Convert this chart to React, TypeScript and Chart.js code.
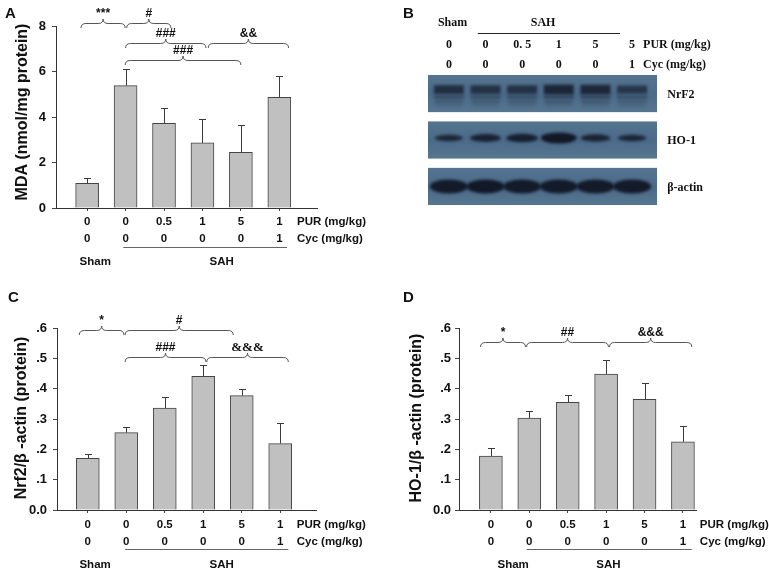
import { useEffect, useRef } from 'react';
import { Chart, registerables } from 'chart.js';

Chart.register(...registerables);

const SANS = '"Liberation Sans", Arial, Helvetica, sans-serif';
const SERIF = '"Liberation Serif", "Times New Roman", Times, serif';

// ---------- shared categories ----------
const lanes = [0, 1, 2, 3, 4, 5];
const purDose = ['0', '0', '0.5', '1', '5', '1'];
const cycDose = ['0', '0', '0', '0', '0', '1'];
const groupLabels = ['Sham', 'SAH'];

// ---------- panel A: MDA ----------
const mdaMean = [1.08, 5.38, 3.72, 2.86, 2.45, 4.86];
const mdaErr = [0.24, 0.74, 0.66, 1.07, 1.22, 0.96];
const mdaTicks = [0, 2, 4, 6, 8];
const mdaTickLabels = ['0', '2', '4', '6', '8'];

// ---------- panel C: Nrf2 / beta-actin ----------
const nrf2Mean = [0.17, 0.255, 0.336, 0.441, 0.377, 0.219];
const nrf2Err = [0.016, 0.018, 0.038, 0.038, 0.023, 0.069];

// ---------- panel D: HO-1 / beta-actin ----------
const ho1Mean = [0.178, 0.303, 0.355, 0.448, 0.365, 0.225];
const ho1Err = [0.025, 0.025, 0.025, 0.048, 0.055, 0.051];

const ratioTicks = [0, 0.1, 0.2, 0.3, 0.4, 0.5, 0.6];
const ratioTickLabels = ['0.0', '.1', '.2', '.3', '.4', '.5', '.6'];

// ---------- significance braces (x in lane units, level in y units) ----------
const mdaBraces = [
  { from: -0.16, to: 0.99, level: 8.13, label: '***' },
  { from: 1.03, to: 2.18, level: 8.13, label: '#' },
  { from: 1.0, to: 3.09, level: 7.25, label: '###' },
  { from: 3.15, to: 5.24, level: 7.25, label: '&&' },
  { from: 0.99, to: 4.0, level: 6.5, label: '###' },
];
const nrf2Braces = [
  { from: -0.22, to: 0.94, level: 0.592, label: '*' },
  { from: 0.97, to: 3.78, level: 0.592, label: '#' },
  { from: 0.97, to: 3.07, level: 0.504, label: '###' },
  { from: 3.09, to: 5.21, level: 0.504, label: '&&&', serif: true },
];
const ho1Braces = [
  { from: -0.27, to: 0.9, level: 0.554, label: '*' },
  { from: 0.93, to: 3.06, level: 0.554, label: '##' },
  { from: 3.09, to: 5.23, level: 0.554, label: '&&&' },
];

// ---------- panel B: western blot ----------
const blotPur = ['0', '0', '0. 5', '1', '5', '5'];
const blotCyc = ['0', '0', '0', '0', '0', '1'];
const blotRows = ['NrF2', 'HO-1', 'β-actin'];
const nrf2Band = [0.7, 0.62, 0.62, 0.95, 0.9, 0.5];
const ho1Band = [0.42, 0.62, 0.7, 1.0, 0.55, 0.45];
const actinBand = [0.95, 0.97, 0.95, 0.95, 0.95, 0.95];
const blotBands = [nrf2Band, ho1Band, actinBand];

type Brace = { from: number; to: number; level: number; label: string; serif?: boolean };

interface BarCfg {
  letter: string; letterX: number; letterY: number;
  left: number; top: number; w: number; h: number;
  axisWidth: number; padTop: number; padRight: number; padBottom: number;
  xMin: number; xMax: number; yMax: number;
  yTicks: number[]; yTickLabels: string[]; tickPad: number;
  means: number[]; errs: number[]; braces: Brace[];
  title: string; titleX: number; titleY: number;
  rows: number[]; shamX: number; sahX: number; lineFrom: number; lineTo: number; unitX: number;
}

const panels: BarCfg[] = [
  {
    letter: 'A', letterX: 5, letterY: 18, left: 0, top: 0, w: 390, h: 285,
    axisWidth: 56, padTop: 26, padRight: 73, padBottom: 77,
    xMin: -0.81, xMax: 5.98, yMax: 8, yTicks: mdaTicks, yTickLabels: mdaTickLabels, tickPad: 6,
    means: mdaMean, errs: mdaErr, braces: mdaBraces,
    title: 'MDA (nmol/mg protein)', titleX: 23, titleY: 112,
    rows: [14, 31, 39, 54], shamX: 0.21, sahX: 3.5, lineFrom: 0.94, lineTo: 5.2, unitX: 5.46,
  },
  {
    letter: 'C', letterX: 8, letterY: 17, left: 0, top: 285, w: 390, h: 287,
    axisWidth: 57, padTop: 43, padRight: 74, padBottom: 62,
    xMin: -0.8, xMax: 5.93, yMax: 0.6, yTicks: ratioTicks, yTickLabels: ratioTickLabels, tickPad: 6,
    means: nrf2Mean, errs: nrf2Err, braces: nrf2Braces,
    title: 'Nrf2/β -actin (protein)', titleX: 22, titleY: 133,
    rows: [15, 31.7, 39.3, 55], shamX: 0.19, sahX: 3.48, lineFrom: 0.97, lineTo: 5.21, unitX: 5.43,
  },
  {
    letter: 'D', letterX: 13, letterY: 17, left: 390, top: 285, w: 379, h: 287,
    axisWidth: 69, padTop: 43, padRight: 73, padBottom: 62,
    xMin: -0.83, xMax: 5.34, yMax: 0.6, yTicks: ratioTicks, yTickLabels: ratioTickLabels, tickPad: 4,
    means: ho1Mean, errs: ho1Err, braces: ho1Braces,
    title: 'HO-1/β -actin (protein)', titleX: 27, titleY: 133,
    rows: [15, 31.7, 39.3, 55], shamX: 0.58, sahX: 3.06, lineFrom: 0.93, lineTo: 5.23, unitX: 5.44,
  },
];

function drawBrace(ctx: CanvasRenderingContext2D, x1: number, x2: number, y: number) {
  const xm = (x1 + x2) / 2;
  const r = 5;
  const h = 4.5;
  ctx.beginPath();
  ctx.moveTo(x1, y + h);
  ctx.quadraticCurveTo(x1, y, x1 + r, y);
  ctx.lineTo(xm - r, y);
  ctx.quadraticCurveTo(xm, y, xm, y - h);
  ctx.quadraticCurveTo(xm, y, xm + r, y);
  ctx.lineTo(x2 - r, y);
  ctx.quadraticCurveTo(x2, y, x2, y + h);
  ctx.stroke();
}

function BarPanel({ cfg }: { cfg: BarCfg }) {
  const ref = useRef<HTMLCanvasElement>(null);
  useEffect(() => {
    const canvas = ref.current as HTMLCanvasElement;
    const decor = {
      id: 'decor' + cfg.letter,
      afterDatasetsDraw(chart: any) {
        const ctx = chart.ctx as CanvasRenderingContext2D;
        const ys = chart.scales.y;
        const meta = chart.getDatasetMeta(0);
        ctx.save();
        ctx.strokeStyle = '#3a3a3a';
        ctx.lineWidth = 1;
        meta.data.forEach((el: any, i: number) => {
          const x = Math.round(el.x) + 0.5;
          const yTop = Math.round(ys.getPixelForValue(cfg.means[i] + cfg.errs[i])) + 0.5;
          ctx.beginPath();
          ctx.moveTo(x, el.y);
          ctx.lineTo(x, yTop);
          ctx.moveTo(x - 3.5, yTop);
          ctx.lineTo(x + 3.5, yTop);
          ctx.stroke();
        });
        ctx.restore();
      },
      afterDraw(chart: any) {
        const ctx = chart.ctx as CanvasRenderingContext2D;
        const xs = chart.scales.x;
        const ys = chart.scales.y;
        const bottom = chart.chartArea.bottom;
        ctx.save();
        // braces
        ctx.strokeStyle = '#555';
        ctx.lineWidth = 1;
        ctx.fillStyle = '#111';
        ctx.textAlign = 'center';
        ctx.textBaseline = 'middle';
        cfg.braces.forEach((b) => {
          const x1 = xs.getPixelForValue(b.from);
          const x2 = xs.getPixelForValue(b.to);
          const y = Math.round(ys.getPixelForValue(b.level)) + 0.5;
          drawBrace(ctx, x1, x2, y);
          ctx.font = b.serif ? `bold 13px ${SERIF}` : `bold 12px ${SANS}`;
          ctx.fillText(b.label, (x1 + x2) / 2, y - 10);
        });
        // dose rows
        ctx.font = `bold 11.5px ${SANS}`;
        ctx.textAlign = 'center';
        lanes.forEach((l, i) => {
          const x = xs.getPixelForValue(l);
          ctx.fillText(purDose[i], x, bottom + cfg.rows[0]);
          ctx.fillText(cycDose[i], x, bottom + cfg.rows[1]);
        });
        ctx.textAlign = 'left';
        const ux = xs.getPixelForValue(cfg.unitX);
        ctx.fillText('PUR (mg/kg)', ux, bottom + cfg.rows[0]);
        ctx.fillText('Cyc (mg/kg)', ux, bottom + cfg.rows[1]);
        // group line
        ctx.strokeStyle = '#666';
        ctx.beginPath();
        const ly = Math.round(bottom + cfg.rows[2]) + 0.5;
        ctx.moveTo(xs.getPixelForValue(cfg.lineFrom), ly);
        ctx.lineTo(xs.getPixelForValue(cfg.lineTo), ly);
        ctx.stroke();
        ctx.textAlign = 'center';
        ctx.fillText(groupLabels[0], xs.getPixelForValue(cfg.shamX), bottom + cfg.rows[3]);
        ctx.fillText(groupLabels[1], xs.getPixelForValue(cfg.sahX), bottom + cfg.rows[3]);
        // y title
        ctx.save();
        ctx.translate(cfg.titleX, cfg.titleY);
        ctx.rotate(-Math.PI / 2);
        ctx.font = `bold 16px ${SANS}`;
        ctx.fillText(cfg.title, 0, 0);
        ctx.restore();
        // panel letter
        ctx.textAlign = 'left';
        ctx.textBaseline = 'alphabetic';
        ctx.font = `bold 15px ${SANS}`;
        ctx.fillText(cfg.letter, cfg.letterX, cfg.letterY);
        ctx.restore();
      },
    };
    const chart = new Chart(canvas, {
      type: 'bar',
      data: {
        datasets: [
          {
            data: cfg.means.map((v, i) => ({ x: lanes[i], y: v })),
            backgroundColor: '#c0c0c0',
            borderColor: '#444',
            borderWidth: 1,
            barThickness: 23,
          },
        ],
      },
      options: {
        animation: false,
        responsive: false,
        events: [],
        layout: { padding: { left: 0, top: cfg.padTop, right: cfg.padRight, bottom: cfg.padBottom } },
        plugins: { legend: { display: false }, tooltip: { enabled: false }, title: { display: false } },
        scales: {
          x: {
            type: 'linear',
            offset: false,
            min: cfg.xMin,
            max: cfg.xMax,
            afterBuildTicks: (s: any) => {
              s.ticks = lanes.map((v) => ({ value: v }));
            },
            afterFit: (s: any) => {
              s.height = 0;
            },
            ticks: { display: false },
            grid: { display: true, offset: false, drawOnChartArea: false, drawTicks: true, tickLength: 3, color: '#444' },
            border: { display: true, color: '#333', width: 1 },
          },
          y: {
            type: 'linear',
            min: 0,
            max: cfg.yMax,
            afterBuildTicks: (s: any) => {
              s.ticks = cfg.yTicks.map((v) => ({ value: v }));
            },
            afterFit: (s: any) => {
              s.width = cfg.axisWidth;
            },
            ticks: {
              padding: cfg.tickPad,
              color: '#111',
              font: { family: SANS, size: 13, weight: 'bold' },
              callback: (_v: any, i: number) => cfg.yTickLabels[i],
            },
            grid: { display: true, drawOnChartArea: false, drawTicks: true, tickLength: 4, color: '#444' },
            border: { display: true, color: '#333', width: 1 },
          },
        },
      } as any,
      plugins: [decor],
    });
    return () => chart.destroy();
  }, []);
  return (
    <canvas
      ref={ref}
      width={cfg.w}
      height={cfg.h}
      style={{ position: 'absolute', left: cfg.left, top: cfg.top, width: cfg.w, height: cfg.h }}
    />
  );
}

function BlotPanel() {
  const ref = useRef<HTMLCanvasElement>(null);
  useEffect(() => {
    const canvas = ref.current as HTMLCanvasElement;
    const blot = {
      id: 'blot',
      beforeDatasetsDraw(chart: any) {
        const ctx = chart.ctx as CanvasRenderingContext2D;
        const xs = chart.scales.x;
        const ys = chart.scales.y;
        ctx.save();
        blotRows.forEach((_r, ri) => {
          const x1 = xs.getPixelForValue(xs.min);
          const x2 = xs.getPixelForValue(xs.max);
          const y1 = ys.getPixelForValue(ri - 0.4);
          const y2 = ys.getPixelForValue(ri + 0.4);
          const g = ctx.createLinearGradient(0, y1, 0, y2);
          g.addColorStop(0, '#55748f');
          g.addColorStop(0.5, '#4b6a89');
          g.addColorStop(1, '#56758f');
          ctx.fillStyle = g;
          ctx.fillRect(x1, y1, x2 - x1, y2 - y1);
        });
        ctx.restore();
      },
      afterDatasetsDraw(chart: any) {
        const ctx = chart.ctx as CanvasRenderingContext2D;
        ctx.save();
        ctx.filter = 'blur(1.4px)';
        chart.data.datasets.forEach((_ds: any, ri: number) => {
          const meta = chart.getDatasetMeta(ri);
          meta.data.forEach((el: any, li: number) => {
            const v = blotBands[ri][li];
            const x = el.x;
            const y = el.y;
            if (ri === 0) {
              ctx.fillStyle = `rgba(24,32,48,${0.5 + 0.45 * v})`;
              ctx.fillRect(x - 15, y - 7 - 2 * v, 30, 6 + 4 * v);
              ctx.fillStyle = `rgba(24,32,48,${0.3 + 0.3 * v})`;
              ctx.fillRect(x - 15, y + 2, 30, 3);
              ctx.fillStyle = `rgba(24,32,48,${0.2 + 0.2 * v})`;
              ctx.fillRect(x - 14, y + 7, 28, 2.5);
              ctx.fillStyle = 'rgba(24,32,48,0.18)';
              ctx.fillRect(x - 13, y + 11, 26, 2);
            } else if (ri === 1) {
              ctx.fillStyle = `rgba(18,24,38,${0.7 + 0.3 * v})`;
              ctx.beginPath();
              ctx.ellipse(x, y - 2, 11 + 7 * v, 1.5 + 4 * v, 0, 0, Math.PI * 2);
              ctx.fill();
            } else {
              ctx.fillStyle = `rgba(16,22,36,${v})`;
              ctx.beginPath();
              ctx.ellipse(x, y, 19, 7, 0, 0, Math.PI * 2);
              ctx.fill();
            }
          });
        });
        ctx.restore();
      },
      afterDraw(chart: any) {
        const ctx = chart.ctx as CanvasRenderingContext2D;
        const xs = chart.scales.x;
        const ys = chart.scales.y;
        ctx.save();
        ctx.fillStyle = '#111';
        ctx.textBaseline = 'middle';
        ctx.font = `bold 12px ${SERIF}`;
        ctx.textAlign = 'center';
        ctx.fillText(groupLabels[0], xs.getPixelForValue(0.1), 23);
        ctx.fillText(groupLabels[1], xs.getPixelForValue(2.57), 23);
        ctx.strokeStyle = '#222';
        ctx.lineWidth = 1;
        ctx.beginPath();
        ctx.moveTo(xs.getPixelForValue(0.79), 33.5);
        ctx.lineTo(xs.getPixelForValue(4.67), 33.5);
        ctx.stroke();
        lanes.forEach((l, i) => {
          const x = xs.getPixelForValue(l);
          ctx.fillText(blotPur[i], x, 45);
          ctx.fillText(blotCyc[i], x, 65);
        });
        ctx.textAlign = 'left';
        const ux = xs.getPixelForValue(5.3);
        ctx.fillText('PUR (mg/kg)', ux, 45);
        ctx.fillText('Cyc (mg/kg)', ux, 65);
        blotRows.forEach((r, ri) => {
          ctx.fillText(r, xs.getPixelForValue(5.96), ys.getPixelForValue(ri) + 1);
        });
        ctx.font = `bold 15px ${SANS}`;
        ctx.textBaseline = 'alphabetic';
        ctx.fillText('B', 13, 18);
        ctx.restore();
      },
    };
    const chart = new Chart(canvas, {
      type: 'scatter',
      data: {
        datasets: blotRows.map((r, ri) => ({
          label: r,
          data: lanes.map((l) => ({ x: l, y: ri })),
          pointRadius: 0,
        })),
      },
      options: {
        animation: false,
        responsive: false,
        events: [],
        layout: { padding: { left: 38, top: 75, right: 112, bottom: 80 } },
        plugins: { legend: { display: false }, tooltip: { enabled: false } },
        scales: {
          x: { type: 'linear', min: -0.57, max: 5.68, display: false },
          y: { type: 'linear', min: -0.4, max: 2.4, reverse: true, display: false },
        },
      } as any,
      plugins: [blot],
    });
    return () => chart.destroy();
  }, []);
  return (
    <canvas
      ref={ref}
      width={379}
      height={285}
      style={{ position: 'absolute', left: 390, top: 0, width: 379, height: 285 }}
    />
  );
}

export default function App() {
  return (
    <div style={{ position: 'fixed', left: 0, top: 0, width: 769, height: 572, background: '#fff', overflow: 'hidden' }}>
      <BarPanel cfg={panels[0]} />
      <BlotPanel />
      <BarPanel cfg={panels[1]} />
      <BarPanel cfg={panels[2]} />
    </div>
  );
}
